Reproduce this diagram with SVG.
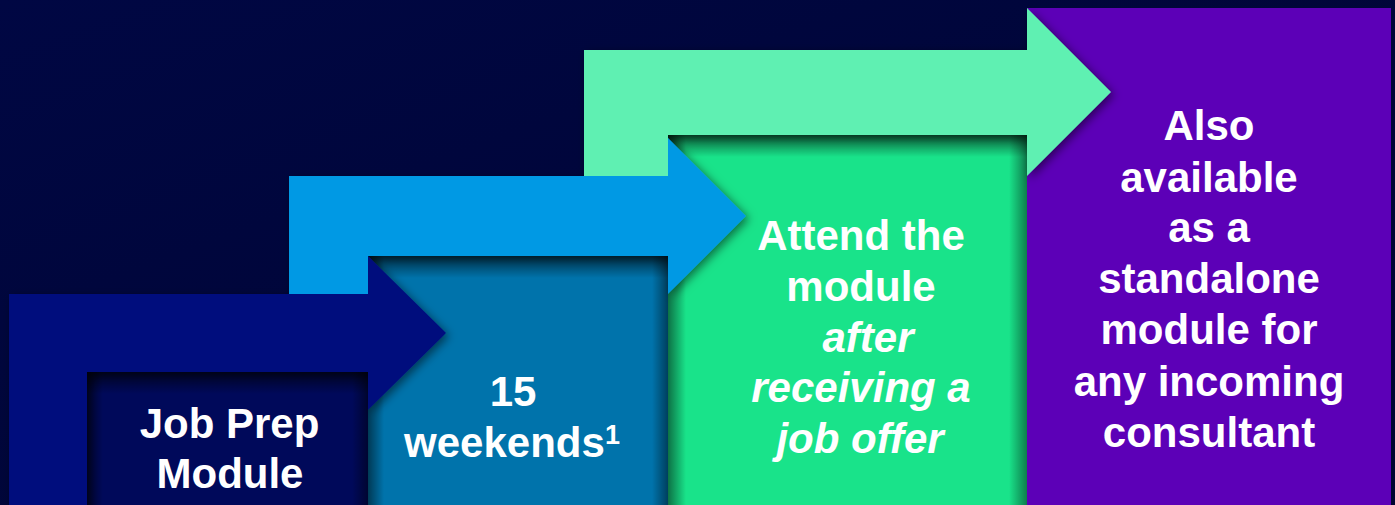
<svg xmlns="http://www.w3.org/2000/svg" width="1395" height="505" viewBox="0 0 1395 505">
  <defs>
    <linearGradient id="bg" x1="0" y1="0" x2="1" y2="1">
      <stop offset="0" stop-color="#000743"/>
      <stop offset="1" stop-color="#000430"/>
    </linearGradient>
    <linearGradient id="shTop" x1="0" y1="0" x2="0" y2="1">
      <stop offset="0" stop-color="#000" stop-opacity="0.6"/>
      <stop offset="1" stop-color="#000" stop-opacity="0"/>
    </linearGradient>
    <linearGradient id="shLeft" x1="0" y1="0" x2="1" y2="0">
      <stop offset="0" stop-color="#000" stop-opacity="0.5"/>
      <stop offset="1" stop-color="#000" stop-opacity="0"/>
    </linearGradient>
    <linearGradient id="shRight" x1="1" y1="0" x2="0" y2="0">
      <stop offset="0" stop-color="#000" stop-opacity="0.45"/>
      <stop offset="1" stop-color="#000" stop-opacity="0"/>
    </linearGradient>
    <filter id="drop" filterUnits="userSpaceOnUse" x="-100" y="-100" width="1600" height="800">
      <feDropShadow dx="3" dy="3" stdDeviation="5" flood-color="#000" flood-opacity="0.5"/>
    </filter>
    <style>
      .t { font-family: "Liberation Sans", Arial, sans-serif; font-weight: bold; font-size: 42px; fill: #ffffff; text-anchor: middle; }
      .i { font-style: italic; }
      .st { fill: url(#shTop); }
      .sl { fill: url(#shLeft); }
      .sr { fill: url(#shRight); }
    </style>
  </defs>
  <rect x="0" y="0" width="1395" height="505" fill="url(#bg)"/>

  <g id="step4">
    <rect x="1027" y="8" width="364" height="497" fill="#5c00b7"/>
    <text class="t" x="1209" y="140">Also</text>
    <text class="t" x="1209" y="192">available</text>
    <text class="t" x="1209" y="242">as a</text>
    <text class="t" x="1209" y="293">standalone</text>
    <text class="t" x="1209" y="344">module for</text>
    <text class="t" x="1209" y="396">any incoming</text>
    <text class="t" x="1209" y="447">consultant</text>
  </g>

  <g id="step3">
    <rect x="668" y="135" width="359" height="370" fill="#19e38a"/>
    <rect class="st" x="668" y="135" width="359" height="22"/>
    <rect class="sl" x="668" y="135" width="18" height="370"/>
    <rect class="sr" x="1009" y="135" width="18" height="370"/>
    <text class="t" x="861" y="250">Attend the</text>
    <text class="t" x="861" y="301">module</text>
    <text class="t i" x="868" y="352">after</text>
    <text class="t i" x="861" y="402">receiving a</text>
    <text class="t i" x="860" y="453">job offer</text>
  </g>

  <g id="step2">
    <rect x="368" y="256" width="300" height="249" fill="#0073ab"/>
    <rect class="st" x="368" y="256" width="300" height="22"/>
    <rect class="sl" x="368" y="256" width="16" height="249"/>
    <rect class="sr" x="652" y="256" width="16" height="249"/>
    <text class="t" x="513" y="406">15</text>
    <text class="t" x="512" y="457">weekends<tspan font-size="27" dy="-13">1</tspan></text>
  </g>

  <g id="step1">
    <rect x="87" y="372" width="281" height="133" fill="#00095a"/>
    <rect class="st" x="87" y="372" width="281" height="22"/>
    <rect class="sl" x="87" y="372" width="16" height="133"/>
    <rect class="sr" x="352" y="372" width="16" height="133"/>
    <text class="t" x="229.5" y="438">Job Prep</text>
    <text class="t" x="230" y="488">Module</text>
  </g>

  <g id="connectors" filter="url(#drop)">
    <polygon fill="#5ef0b2" points="584,180 584,50 1027,50 1027,8 1111,92 1027,176 1027,135 668,135 668,180"/>
    <polygon fill="#0099e4" points="289,300 289,176 668,176 668,138 746,216 668,294 668,256 368,256 368,300"/>
    <polygon fill="#000f7d" points="9,540 9,294 368,294 368,256 446,333 368,410 368,372 87,372 87,540"/>
  </g>
</svg>
